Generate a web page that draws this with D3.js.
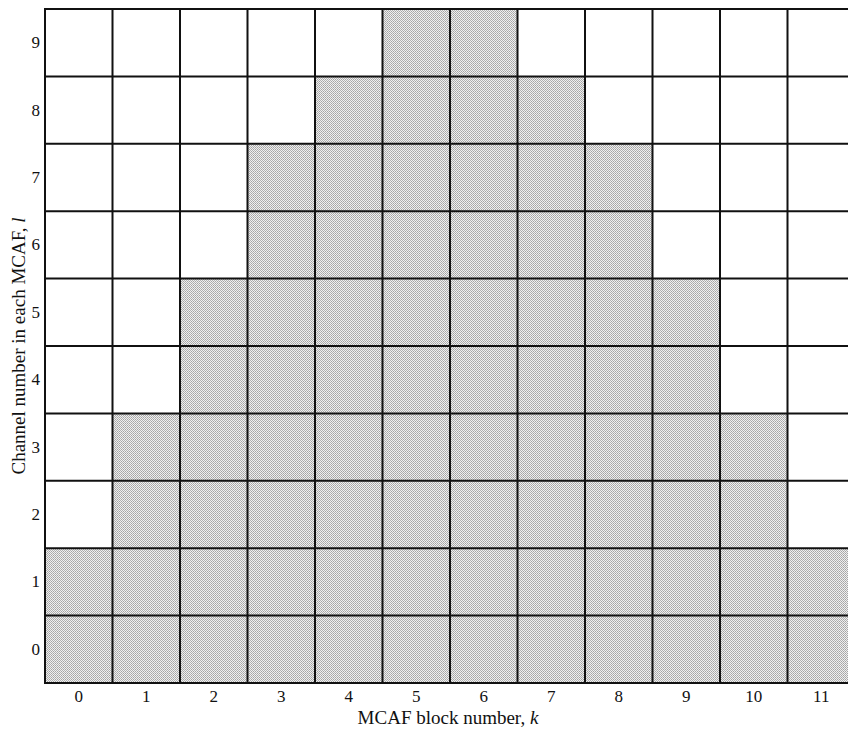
<!DOCTYPE html>
<html>
<head>
<meta charset="utf-8">
<script src="https://cdn.jsdelivr.net/npm/d3@7"></script>
<style>
  body { margin: 0; background: #fff; }
  svg { display: block; font-family: "Liberation Serif", "DejaVu Serif", serif; }
  .tick text { font-family: "Liberation Serif", serif; font-size: 17px; fill: #111; }
</style>
</head>
<body>
<div id="chart"></div>
<script>
// === DONNÉES ===
const blocks = [0, 1, 2, 3, 4, 5, 6, 7, 8, 9, 10, 11];      // k
const channels = [0, 1, 2, 3, 4, 5, 6, 7, 8, 9];            // l
const channelCount = [2, 4, 6, 8, 9, 10, 10, 9, 8, 6, 4, 2]; // canaux occupés par bloc

// === CONFIGURATION ===
const W = 848, H = 731;
const margin = { top: 9, left: 45 };
const cell = 67.5;
const width = cell * blocks.length;
const height = cell * channels.length - 1;

const svg = d3.select("#chart").append("svg")
  .attr("width", W)
  .attr("height", H);

// motif gris tramé
const defs = svg.append("defs");
const pat = defs.append("pattern")
  .attr("id", "hatch")
  .attr("width", 2)
  .attr("height", 2)
  .attr("patternUnits", "userSpaceOnUse");
pat.append("rect").attr("width", 2).attr("height", 2).attr("fill", "#efefef");
pat.append("rect").attr("width", 1).attr("height", 1).attr("fill", "#a4a4a4");
pat.append("rect").attr("x", 1).attr("y", 1).attr("width", 1).attr("height", 1).attr("fill", "#b2b2b2");

const g = svg.append("g")
  .attr("transform", `translate(${margin.left},${margin.top})`);

const x = d3.scaleBand().domain(blocks).range([0, width]).padding(0);
const y = d3.scaleBand().domain(channels).range([height, 0]).padding(0);

// cellules occupées
const cells = [];
blocks.forEach((k, i) => {
  for (let l = 0; l < channelCount[i]; l++) cells.push({ k, l });
});

g.selectAll(".cell")
  .data(cells)
  .enter()
  .append("rect")
  .attr("class", "cell")
  .attr("x", d => x(d.k))
  .attr("y", d => y(d.l))
  .attr("width", x.bandwidth())
  .attr("height", y.bandwidth())
  .attr("fill", "url(#hatch)");

// grille
g.selectAll(".vline")
  .data(blocks.slice(1))
  .enter()
  .append("line")
  .attr("x1", d => x(d))
  .attr("x2", d => x(d))
  .attr("y1", 0)
  .attr("y2", height)
  .attr("stroke", "#111")
  .attr("stroke-width", 2);

g.selectAll(".hline")
  .data(channels.slice(1))
  .enter()
  .append("line")
  .attr("x1", 0)
  .attr("x2", width)
  .attr("y1", d => y(d) + y.bandwidth())
  .attr("y2", d => y(d) + y.bandwidth())
  .attr("stroke", "#111")
  .attr("stroke-width", 2);

g.append("rect")
  .attr("width", width)
  .attr("height", height)
  .attr("fill", "none")
  .attr("stroke", "#111")
  .attr("stroke-width", 2);

// axes
const xAxis = g.append("g")
  .attr("transform", `translate(0,${height})`)
  .call(d3.axisBottom(x).tickSize(0).tickPadding(7));
xAxis.select(".domain").remove();

const yAxis = g.append("g")
  .call(d3.axisLeft(y).tickSize(0).tickPadding(5));
yAxis.select(".domain").remove();

// titres
svg.append("text")
  .attr("x", margin.left + 403)
  .attr("y", 724)
  .attr("text-anchor", "middle")
  .style("font-size", "19px")
  .attr("fill", "#111")
  .html('MCAF block number, <tspan font-style="italic">k</tspan>');

svg.append("text")
  .attr("transform", `translate(25,${margin.top + height / 2}) rotate(-90)`)
  .attr("text-anchor", "middle")
  .style("font-size", "19px")
  .attr("fill", "#111")
  .html('Channel number in each MCAF, <tspan font-style="italic">l</tspan>');
</script>
</body>
</html>
